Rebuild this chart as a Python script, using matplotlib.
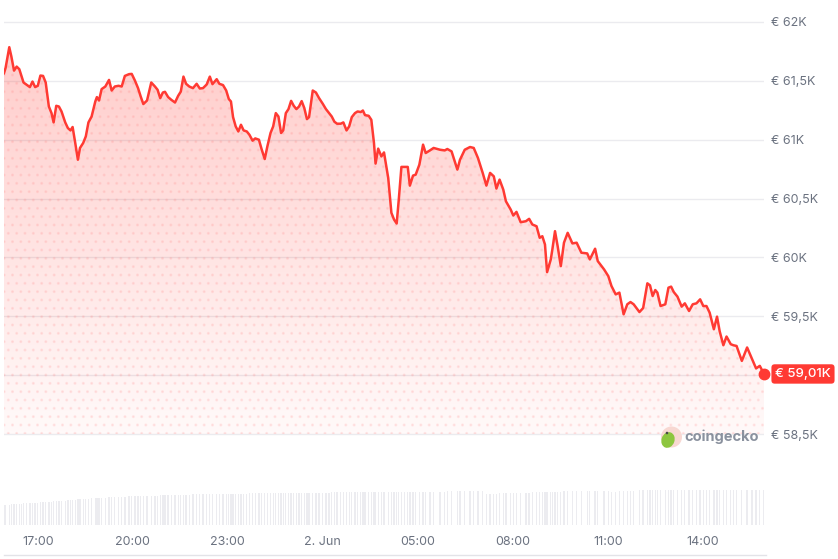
# BTC/EUR 24h price chart, coingecko style
import numpy as np
import pandas as pd
import matplotlib
matplotlib.use("Agg")
import matplotlib.pyplot as plt
import matplotlib.dates as mdates
from matplotlib.patches import Circle, Ellipse
from matplotlib.lines import Line2D
from matplotlib.transforms import IdentityTransform

# --- data ---
times = [
    "15:56", "15:59", "16:06", "16:10", "16:15", "16:20", "16:25", "16:29", "16:33", "16:39", "16:45", "16:50", "16:55", "17:00", "17:05",
    "17:10", "17:15", "17:21", "17:26", "17:30", "17:35", "17:40", "17:45", "17:52", "17:57", "18:02", "18:06", "18:11", "18:16", "18:20",
    "18:26", "18:31", "18:36", "18:42", "18:49", "18:52", "18:56", "19:01", "19:08", "19:15", "19:20", "19:26", "19:33", "19:39", "19:45", "19:53", "19:58",
    "20:04", "20:10", "20:15", "20:20", "20:27", "20:35", "20:42", "20:47", "20:52", "20:57", "21:01", "21:07", "21:13", "21:20", "21:26", "21:31", "21:36", "21:41",
    "21:47", "21:54", "22:01", "22:07", "22:13", "22:20", "22:26", "22:31", "22:39", "22:44", "22:51", "22:57", "23:02", "23:06", "23:10", "23:15", "23:20", "23:25",
    "23:30", "23:36", "23:41", "23:47", "23:52", "23:59", "00:04", "00:10", "00:15", "00:21", "00:26", "00:31", "00:36", "00:41", "00:45", "00:50", "00:55", "01:00", "01:05", "01:10", "01:15",
    "01:20", "01:25", "01:30", "01:34", "01:41", "01:47", "01:53", "02:00", "02:06", "02:12", "02:17", "02:22", "02:27", "02:34", "02:39", "02:45",
    "02:50", "02:55", "03:01", "03:06", "03:12", "03:16", "03:20", "03:27", "03:32", "03:37", "03:40", "03:45", "03:51", "03:56", "04:04", "04:10", "04:15", "04:20", "04:24", "04:29",
    "04:35", "04:41", "04:45", "04:51", "04:56", "05:03", "05:10", "05:15", "05:23", "05:30", "05:42", "05:51", "05:56", "06:04", "06:15", "06:20", "06:29", "06:39", "06:46", "06:54", "07:03",
    "07:10", "07:17", "07:24", "07:29", "07:35",
    "07:42", "07:47", "07:56", "08:01", "08:07", "08:15", "08:25", "08:31", "08:37", "08:45",
    "08:51", "08:56", "09:01", "09:05", "09:12", "09:15", "09:20", "09:25", "09:31", "09:37", "09:44", "09:53", "10:01", "10:10", "10:21", "10:26",
    "10:36", "10:41", "10:53", "11:01", "11:07", "11:15", "11:22", "11:30", "11:37", "11:43", "11:49", "12:00", "12:07",
    "12:15", "12:20", "12:25", "12:30", "12:34", "12:40", "12:49", "12:55", "13:00", "13:05", "13:12", "13:20", "13:26", "13:34", "13:41", "13:48", "13:55",
    "14:01", "14:07", "14:13", "14:21", "14:27", "14:32", "14:39", "14:45", "14:53", "14:58", "15:04", "15:14", "15:24", "15:33", "15:41", "15:48", "15:56",
]

prices = [
    61565, 61610, 61786, 61706, 61587, 61621, 61599, 61542, 61486, 61466, 61447, 61494, 61447, 61458, 61545,
    61542, 61486, 61282, 61226, 61147, 61288, 61282, 61240, 61147, 61099, 61079, 61108, 60972, 60830, 60930,
    60972, 61028, 61147, 61197, 61325, 61362, 61333, 61430, 61452, 61508, 61418, 61452, 61458, 61452, 61542, 61557, 61559,
    61503, 61438, 61367, 61303, 61333, 61486, 61452, 61424, 61353, 61401, 61407, 61362, 61339, 61316, 61373, 61409, 61536, 61475,
    61452, 61438, 61475, 61435, 61438, 61469, 61536, 61472, 61514, 61475, 61464, 61418, 61345, 61325, 61192, 61113, 61070, 61127,
    61079, 61070, 61042, 60992, 61011, 61000, 60921, 60836, 60943, 61057, 61113, 61226, 61197, 61057, 61079, 61226, 61260, 61330, 61288, 61260, 61282,
    61328, 61269, 61175, 61192, 61418, 61401, 61353, 61305, 61260, 61226, 61197, 61153, 61136, 61136, 61147, 61079,
    61113, 61192, 61226, 61240, 61235, 61248, 61209, 61203, 61169, 60972, 60797, 60924, 60858, 60892, 60675, 60379, 60322, 60288, 60491, 60769,
    60769, 60769, 60610, 60695, 60703, 60788, 60958, 60887, 60909, 60930, 60915, 60909, 60921, 60901, 60746, 60830, 60915, 60938, 60930, 60845, 60718,
    60610, 60718, 60689, 60585, 60661,
    60576, 60477, 60407, 60356, 60387, 60299, 60308, 60328, 60280, 60265,
    60167, 60180, 60110, 59875, 59983, 60068, 60223, 60096, 59926, 60125, 60209, 60119, 60125, 60040, 60034, 59983,
    60074, 59969, 59898, 59841, 59757, 59686, 59701, 59517, 59602, 59621, 59602, 59536, 59570,
    59780, 59763, 59672, 59723, 59701, 59587, 59602, 59743, 59752, 59706, 59667, 59582, 59610, 59545, 59602, 59610, 59644,
    59587, 59587, 59531, 59390, 59497, 59373, 59254, 59328, 59263, 59254, 59248, 59121, 59235, 59141, 59057, 59079, 59010,
]

# 24h volume (bn EUR), one bar per price point
volumes = [
    10.0, 10.1, 10.2, 10.3, 10.4, 10.5, 10.6, 10.7, 10.8, 10.9, 11.0, 11.0, 11.1, 11.2, 11.3,
    11.4, 11.5, 11.6, 11.7, 11.8, 11.9, 12.0, 12.1, 12.2, 12.4, 12.5, 12.6, 12.7, 12.8, 13.0,
    13.0, 13.1, 13.2, 13.3, 13.4, 13.5, 13.5, 13.6, 13.7, 13.8, 13.8, 13.9, 14.0, 14.1, 14.2, 14.3, 14.3,
    14.4, 14.4, 14.5, 14.5, 14.6, 14.6, 14.7, 14.7, 14.8, 14.8, 14.9, 14.9, 15.0, 15.0, 15.1, 15.1, 15.2, 15.2,
    15.2, 15.3, 15.3, 15.3, 15.4, 15.4, 15.4, 15.5, 15.5, 15.5, 15.5, 15.6, 15.6, 15.6, 15.6, 15.7, 15.7, 15.7,
    15.7, 15.7, 15.8, 15.8, 15.8, 15.8, 15.8, 15.9, 15.9, 15.9, 15.9, 15.9, 15.9, 16.0, 16.0, 16.0, 16.0, 16.0, 16.0, 16.0, 16.0,
    16.0, 16.1, 16.1, 16.1, 16.1, 16.2, 16.2, 16.2, 16.2, 16.2, 16.3, 16.3, 16.3, 16.3, 16.3, 16.3,
    16.3, 16.3, 16.4, 16.4, 16.3, 16.4, 16.4, 16.4, 16.4, 16.4, 16.5, 16.5, 16.4, 16.5, 16.5, 16.5, 16.5, 16.5, 16.5, 16.5,
    16.5, 16.5, 16.6, 16.6, 16.6, 16.6, 16.6, 16.7, 16.7, 16.7, 16.7, 16.7, 16.8, 16.8, 16.8, 16.8, 16.8, 16.8, 16.8, 16.8, 16.8,
    15.7, 15.6, 15.6, 15.7, 15.8,
    15.9, 16.0, 16.0, 16.1, 16.1, 16.2, 16.2, 16.2, 16.3, 16.3,
    16.3, 16.4, 16.4, 16.5, 16.5, 16.6, 16.6, 16.7, 16.7, 16.8, 16.8, 16.9, 16.9, 16.9, 17.0, 17.0,
    17.0, 17.0, 17.0, 16.9, 16.7, 16.7, 16.8, 17.0, 17.1, 17.2, 17.2, 17.3, 17.3,
    17.3, 17.3, 17.3, 17.4, 17.3, 17.4, 17.4, 17.3, 17.4, 17.4, 17.4, 17.3, 17.4, 17.4, 17.4, 17.4, 17.5,
    17.4, 17.4, 17.5, 17.5, 17.4, 17.5, 17.5, 17.5, 17.5, 17.4, 17.5, 17.5, 17.5, 17.5, 17.5, 17.5, 17.5,
]

tick_times = ["2024-06-01 17:00", "2024-06-01 20:00", "2024-06-01 23:00", "2024-06-02 02:00",
              "2024-06-02 05:00", "2024-06-02 08:00", "2024-06-02 11:00", "2024-06-02 14:00"]
tick_labels = ["17:00", "20:00", "23:00", "2. Jun", "05:00", "08:00", "11:00", "14:00"]
price_ticks = [58500, 59000, 59500, 60000, 60500, 61000, 61500, 62000]
# the 59K label sits under the last-price badge, so it is not shown
price_labels = ["€ 58,5K", "", "€ 59,5K", "€ 60K", "€ 60,5K", "€ 61K", "€ 61,5K", "€ 62K"]
last_label = "€ 59,01K"

# build timestamps, rolling over midnight
stamps = []
day = pd.Timestamp("2024-06-01")
prev = -1
for t in times:
    h, m = map(int, t.split(":"))
    if h * 60 + m < prev:
        day += pd.Timedelta(days=1)
    prev = h * 60 + m
    stamps.append(day + pd.Timedelta(hours=h, minutes=m))
x = mdates.date2num(stamps)
y = np.array(prices, dtype=float)

RED = "#ff3a33"
GRID = "#ebebef"
TXT = "#6b7280"
plt.rcParams["font.family"] = ["Inter", "DejaVu Sans"]

W, H = 838, 559
fig = plt.figure(figsize=(W / 100, H / 100), dpi=100)

# price pane (pixel box 4..764 x 20..436)
ax = fig.add_axes([4 / W, 1 - 436 / H, 760 / W, 416 / H])
ypad = 2 * 500 / 59.0
ax.set_ylim(58500 - ypad, 62000 + ypad)
ax.set_xlim(x[0], x[-1])
for s in ax.spines.values():
    s.set_visible(False)
ax.set_yticks(price_ticks)
ax.set_yticklabels(price_labels)
ax.yaxis.tick_right()
ax.tick_params(axis="y", length=0, pad=5, labelsize=9, labelcolor=TXT)
ax.set_xticks([])
ax.grid(axis="y", color=GRID, lw=1.0)
ax.set_axisbelow(True)

# gradient fill under the line
poly = ax.fill_between(x, y, 58500, facecolor="none", edgecolor="none")
grad = np.zeros((256, 1, 4))
grad[:, 0, 0] = 1.0
grad[:, 0, 1] = 0.23
grad[:, 0, 2] = 0.2
grad[:, 0, 3] = np.linspace(0.26, 0.03, 256)
img = ax.imshow(grad, extent=[x[0], x[-1], 58500, 61800], aspect="auto",
                origin="upper", interpolation="bilinear", zorder=1)
img.set_clip_path(poly.get_paths()[0], transform=ax.transData)
ax.fill_between(x, y, 58500, facecolor="none", edgecolor=(1, 0.45, 0.45, 0.12),
                hatch="..", linewidth=0, zorder=1.5)

ax.plot(x, y, color=RED, lw=1.8, zorder=3, solid_joinstyle="round")
ax.plot(x[-1], y[-1], "o", color=RED, ms=7.5, zorder=4, clip_on=False)
ax.annotate(last_label, (x[-1], y[-1]), xytext=(8, 0), textcoords="offset points",
            ha="left", va="center", color="white", fontsize=9.5, fontweight="medium",
            bbox=dict(boxstyle="round,pad=0.28,rounding_size=0.25", fc=RED, ec="none"),
            annotation_clip=False, zorder=5)

# volume pane
vax = fig.add_axes([4 / W, 1 - 525 / H, 760 / W, 60 / H])
vax.bar(x, volumes, width=0.0017, color="#ececf0", linewidth=0)
vax.set_xlim(x[0], x[-1])
vax.set_ylim(0, 30)
for s in vax.spines.values():
    s.set_visible(False)
vax.set_yticks([])
vax.set_xticks(mdates.date2num(pd.to_datetime(tick_times)))
vax.set_xticklabels(tick_labels)
vax.tick_params(axis="x", length=0, pad=8, labelsize=9, labelcolor=TXT)

# navigator strip at the very bottom (cut off), drawn in pixels
ident = IdentityTransform()
nav_col = "#e3e3e8"
fig.add_artist(Line2D([4, 766], [H - 555, H - 555], transform=ident, color=nav_col, lw=1.0))

# coingecko watermark
fig.add_artist(Circle((671.5, H - 437), 10.5, transform=ident, fc="#f8d8d2", ec="none"))
fig.add_artist(Ellipse((668.0, H - 440), 13, 16, angle=-20, transform=ident,
                       fc="#8dc63f", ec="none"))
fig.add_artist(Circle((667.0, H - 433), 1.3, transform=ident, fc="#4a4a4a", ec="none"))
fig.text(684 / W, 1 - 437 / H, "coingecko", fontsize=10.5, fontweight="bold",
         color="#8a919e", va="center", ha="left")

fig.savefig("out.png", dpi=100)
